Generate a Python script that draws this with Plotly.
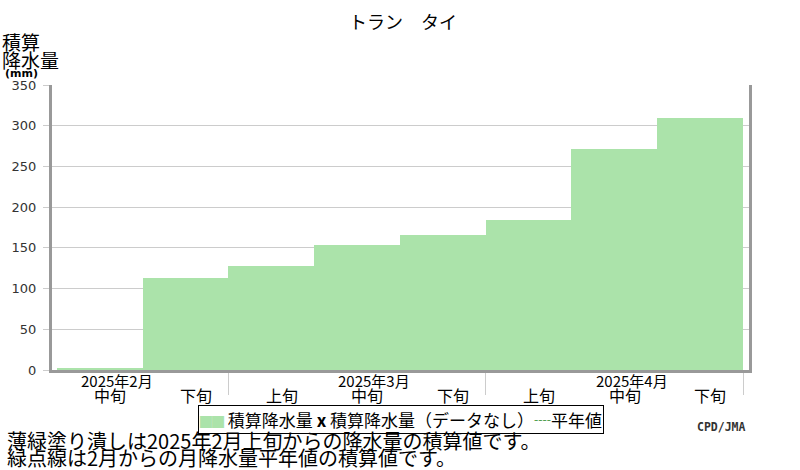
import plotly.graph_objects as go

# 旬ごとの積算降水量 (mm)
dekads = ["中旬", "下旬", "上旬", "中旬", "下旬", "上旬", "中旬", "下旬"]
months = ["2025年2月", "2025年3月", "2025年4月"]
month_pos = [0, 3, 6]          # month label sits over its 中旬
month_edges = [1.5, 4.5, 7.5]  # boundaries between months
accum_precip = [3, 113, 128, 153, 166, 184, 271, 310]
y_ticks = [0, 50, 100, 150, 200, 250, 300, 350]

JP = "Noto Sans CJK JP"
GREEN = "#abe3aa"

fig = go.Figure()
fig.add_trace(go.Bar(
    x=list(range(len(accum_precip))),
    y=accum_precip,
    width=1,
    marker=dict(color=GREEN, line=dict(width=0)),
    name="積算降水量",
    showlegend=False,
))

fig.update_layout(
    width=800, height=470,
    margin=dict(l=52, r=51, t=85, b=100),
    paper_bgcolor="white", plot_bgcolor="white",
    font=dict(family=JP, color="black"),
    bargap=0,
    title=dict(text="トラン　タイ", x=403 / 800, xref="container", y=1 - 23 / 470,
               yanchor="middle", xanchor="center",
               font=dict(family=JP, size=18, color="black")),
    xaxis=dict(range=[-0.558, 7.57], showgrid=False, zeroline=False,
               showline=True, linecolor="#999999", linewidth=3, automargin=False,
               tickmode="array", tickvals=month_edges, showticklabels=False,
               ticks="outside", ticklen=22, tickcolor="#cccccc", tickwidth=1),
    yaxis=dict(range=[0, 350], tickvals=y_ticks, showgrid=True, automargin=False,
               gridcolor="#cccccc", gridwidth=1, zeroline=False,
               showline=True, mirror=True, linecolor="#999999", linewidth=3,
               ticks="outside", ticklen=6, tickcolor="#cccccc",
               ticklabelstandoff=4,
               tickfont=dict(family="DejaVu Sans", size=13, color="#333333")),
)

ann = []
# dekad labels
for i, d in enumerate(dekads):
    ann.append(dict(x=i + 0.12, xref="x", y=-0.086, yref="paper", text=d,
                    showarrow=False, xanchor="center", yanchor="middle",
                    font=dict(family=JP, size=16, color="black")))
# month labels
for m, p in zip(months, month_pos):
    ann.append(dict(x=p + 0.2, xref="x", y=-0.036, yref="paper", text=m,
                    showarrow=False, xanchor="center", yanchor="middle",
                    font=dict(family=JP, size=15, color="black")))

# y axis title
ann.append(dict(x=-52 / 697, xref="paper", y=1.154, yref="paper", text="積算",
                showarrow=False, xanchor="left", yanchor="middle",
                font=dict(family=JP, size=19, color="black")))
ann.append(dict(x=-52 / 697, xref="paper", y=1.091, yref="paper", text="降水量",
                showarrow=False, xanchor="left", yanchor="middle",
                font=dict(family=JP, size=19, color="black")))
ann.append(dict(x=-49 / 697, xref="paper", y=1.040, yref="paper", text="<b>(mm)</b>",
                showarrow=False, xanchor="left", yanchor="middle",
                font=dict(family="DejaVu Sans", size=11, color="black")))

# legend box
legend_text = (f'<span style="color:{GREEN};font-size:12px">██</span> 積算降水量 '
               '<b>x</b> 積算降水量（データなし）'
               '<span style="color:#2a8a2a">┈</span>平年値')
ann.append(dict(x=(400.5 - 52) / 697, xref="paper", y=(370 - 419.5) / 285, yref="paper",
                text=legend_text, showarrow=False, xanchor="center", yanchor="middle",
                bordercolor="black", borderwidth=1, borderpad=1, bgcolor="white",
                font=dict(family=JP, size=17, color="black")))

# notes
ann.append(dict(x=-47 / 697, xref="paper", y=(370 - 441) / 285, yref="paper",
                text="薄緑塗り潰しは2025年2月上旬からの降水量の積算値です。",
                showarrow=False, xanchor="left", yanchor="middle",
                font=dict(family=JP, size=20, color="black")))
ann.append(dict(x=-47 / 697, xref="paper", y=(370 - 457.5) / 285, yref="paper",
                text="緑点線は2月からの月降水量平年値の積算値です。",
                showarrow=False, xanchor="left", yanchor="middle",
                font=dict(family=JP, size=20, color="black")))
ann.append(dict(x=(748 - 52) / 697, xref="paper", y=(370 - 427) / 285, yref="paper",
                text="<b>CPD/JMA</b>", showarrow=False, xanchor="right", yanchor="middle",
                font=dict(family="DejaVu Sans Mono", size=11.5, color="#333333")))

fig.update_layout(annotations=ann)
# drop the default body margin so the figure sits at the window's corner
fig.write_html("out.html", config={"displayModeBar": False},
               post_script="document.body.style.margin='0';")
